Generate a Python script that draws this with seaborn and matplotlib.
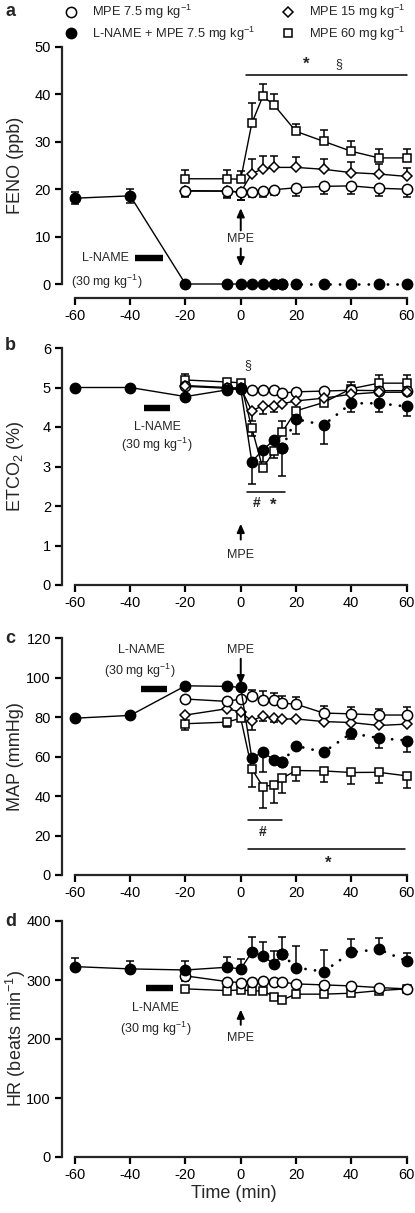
import matplotlib
matplotlib.use("Agg")
import matplotlib.pyplot as plt
import seaborn as sns
from matplotlib.lines import Line2D

# ---------------- data ----------------
t_ln = [-60, -40, -20, -5, 0, 4, 8, 12, 15, 20, 30, 40, 50, 60]
t_mpe = [-20, -5, 0, 4, 8, 12, 15, 20, 30, 40, 50, 60]
t_mpe_a = [-20, -5, 0, 4, 8, 12, 20, 30, 40, 50, 60]

# Panel a: FENO (ppb)
a_ln = [18.1, 18.6, 0, 0, 0, 0, 0, 0, 0, 0, 0, 0, 0, 0]
a_ln_up = [1.3, 1.5, 0, 0, 0, 0, 0, 0, 0, 0, 0, 0, 0, 0]
a_ln_dn = [1.3, 1.5, 0, 0, 0, 0, 0, 0, 0, 0, 0, 0, 0, 0]
a_m60 = [22.2, 22.2, 22.1, 33.9, 39.6, 37.8, 32.2, 30.1, 28.0, 26.6, 26.6]
a_m60_up = [1.9, 1.9, 1.8, 4.2, 2.5, 2.2, 1.6, 2.4, 2.2, 1.9, 1.9]
a_m15 = [19.6, 19.6, 19.4, 23.3, 24.3, 24.6, 24.6, 24.2, 23.5, 23.2, 22.7]
a_m15_up = [0, 0, 0, 3.1, 2.8, 2.4, 2.2, 2.1, 2.2, 2.1, 1.8]
a_m15_dn = [1.2, 1.4, 1.7, 0, 0, 0, 0, 0, 0, 0, 0]
a_m75 = [19.7, 19.6, 19.4, 19.5, 19.6, 19.9, 20.3, 20.6, 20.7, 20.2, 20.0]
a_m75_dn = [1.2, 1.3, 1.6, 1.1, 1.2, 1.2, 1.8, 1.7, 1.7, 1.6, 1.7]

# Panel b: ETCO2 (%)
b_ln = [5.0, 5.0, 4.77, 4.94, 4.97, 3.12, 3.42, 3.67, 3.48, 4.20, 4.05, 4.60, 4.60, 4.52]
b_ln_dn = [0, 0, 0, 0, 0, 0.57, 0.3, 0.2, 0.71, 0.37, 0.49, 0.21, 0.23, 0.24]
b_m60 = [5.19, 5.14, 5.12, 3.97, 2.95, 3.39, 3.87, 4.41, 4.62, 4.97, 5.11, 5.11]
b_m60_up = [0.16, 0.05, 0.05, 0, 0, 0, 0.27, 0, 0, 0.18, 0.21, 0.2]
b_m60_dn = [0, 0, 0, 0.2, 0, 0.18, 0, 0, 0, 0, 0, 0]
b_m15 = [5.03, 4.98, 4.98, 4.41, 4.54, 4.54, 4.59, 4.66, 4.73, 4.83, 4.88, 4.88]
b_m15_dn = [0, 0, 0, 0.27, 0.2, 0.15, 0, 0, 0, 0, 0, 0]
b_m75 = [5.05, 5.0, 4.98, 4.94, 4.94, 4.93, 4.86, 4.89, 4.91, 4.93, 4.92, 4.92]

# Panel c: MAP (mmHg)
c_ln = [79.4, 80.8, 95.8, 95.5, 95.0, 59.2, 62.2, 58.3, 57.1, 65.4, 62.2, 71.8, 69.3, 68.1]
c_ln_dn = [0, 0, 0, 0, 0, 0, 9.8, 0, 0, 0, 0, 3.0, 5.0, 5.6]
c_m75 = [89.1, 87.9, 89.1, 90.8, 88.4, 88.4, 87.0, 86.5, 82.0, 81.6, 81.0, 81.0]
c_m75_up = [0, 0, 0, 3.0, 4.6, 3.7, 3.8, 3.5, 3.7, 3.4, 3.3, 4.3]
c_m15 = [81.0, 84.2, 82.5, 78.0, 80.6, 79.3, 79.0, 79.0, 77.7, 77.2, 75.7, 76.4]
c_m15_dn = [0, 0, 0, 4.5, 2.4, 2.0, 0, 0, 0, 0, 0, 0]
c_m60 = [76.6, 77.4, 79.4, 53.7, 44.8, 45.6, 49.0, 52.9, 52.7, 51.9, 52.0, 50.2]
c_m60_dn = [3.1, 2.7, 0, 8.9, 11.0, 9.3, 7.6, 5.2, 5.4, 5.8, 5.5, 5.9]

# Panel d: HR (beats min-1)
d_ln = [322.7, 318.8, 317.0, 321.6, 318.8, 347.0, 341.3, 326.7, 343.6, 321.0, 314.2, 347.0, 352.0, 332.3]
d_ln_up = [15.3, 14.2, 15.3, 18.0, 16.9, 26.5, 22.7, 23.3, 29.9, 37.0, 36.8, 22.5, 19.8, 13.0]
d_m75 = [307.0, 297.3, 295.6, 297.3, 298.4, 297.3, 296.2, 293.4, 291.7, 290.0, 287.2, 285.0]
d_m75_dn = [9, 0, 0, 0, 0, 0, 0, 0, 0, 0, 0, 0]
d_m60 = [285.0, 282.0, 283.2, 281.5, 281.5, 272.0, 266.3, 276.0, 276.0, 277.6, 282.0, 285.0]

legend_labels = [r"MPE 7.5 mg kg$^{-1}$", r"L-NAME + MPE 7.5 mg kg$^{-1}$",
                 r"MPE 15 mg kg$^{-1}$", r"MPE 60 mg kg$^{-1}$"]
ylabels = ["FENO (ppb)", r"ET$\mathregular{CO_2}$ (%)", "MAP (mmHg)", r"HR (beats min$^{-1}$)"]
xticks = [-60, -40, -20, 0, 20, 40, 60]

# ---------------- style ----------------
sns.set_style("ticks")
plt.rcParams["font.family"] = ["Liberation Sans", "DejaVu Sans"]
plt.rcParams["mathtext.fontset"] = "custom"
plt.rcParams["mathtext.rm"] = "Liberation Sans"
plt.rcParams["mathtext.it"] = "Liberation Sans:italic"
plt.rcParams["mathtext.bf"] = "Liberation Sans:bold"
plt.rcParams["axes.unicode_minus"] = False

W, H = 415, 1213
fig = plt.figure(figsize=(W / 100, H / 100), dpi=100)

L, R = 62, 406.5
def add_axes(top, bottom):
    return fig.add_axes([L / W, 1 - bottom / H, (R - L) / W, (bottom - top) / H])

axa = add_axes(47, 284)
axb = add_axes(348, 585)
axc = add_axes(638, 875)
axd = add_axes(921, 1157)

MS_C, MS_S, MS_D = 7.4, 6.4, 7.0
EW = 1.1
LW = 1.0

styles = {
    "m75": dict(marker="o", markersize=MS_C, markerfacecolor="white"),
    "ln": dict(marker="o", markersize=MS_C, markerfacecolor="black"),
    "m15": dict(marker="D", markersize=MS_D * 0.8, markerfacecolor="white"),
    "m60": dict(marker="s", markersize=MS_S, markerfacecolor="white"),
}

def errbars(ax, t, y, up=None, dn=None):
    n = len(t)
    up = up if up is not None else [0] * n
    dn = dn if dn is not None else [0] * n
    for ti, yi, u, d in zip(t, y, up, dn):
        if u > 0:
            ax.errorbar([ti], [yi], yerr=[[0], [u]], fmt="none", ecolor="black",
                        elinewidth=1.1, capsize=2.6, capthick=1.1, zorder=1.5, clip_on=False)
        if d > 0:
            ax.errorbar([ti], [yi], yerr=[[d], [0]], fmt="none", ecolor="black",
                        elinewidth=1.1, capsize=2.6, capthick=1.1, zorder=1.5, clip_on=False)

def series(ax, t, y, key, z):
    st = styles[key]
    sns.lineplot(x=t, y=y, ax=ax, color="black", lw=LW, markeredgecolor="black",
                 markeredgewidth=EW, zorder=z, clip_on=False, errorbar=None, **st)

def series_ln(ax, t, y, z=5):
    st = styles["ln"]
    ts = [v for v in t if v <= 15]
    ys = [y[i] for i, v in enumerate(t) if v <= 15]
    td = [v for v in t if v >= 15]
    yd = [y[i] for i, v in enumerate(t) if v >= 15]
    sns.lineplot(x=td, y=yd, ax=ax, color="black", lw=2.0, linestyle=(0, (0.05, 3.4)),
                 dash_capstyle="round", zorder=z - 0.5, clip_on=False, errorbar=None)
    sns.lineplot(x=td, y=yd, ax=ax, color="black", lw=0, markeredgecolor="black",
                 markeredgewidth=EW, zorder=z, clip_on=False, errorbar=None, **st)
    sns.lineplot(x=ts, y=ys, ax=ax, color="black", lw=LW, markeredgecolor="black",
                 markeredgewidth=EW, zorder=z, clip_on=False, errorbar=None, **st)

# ---- Panel a
errbars(axa, t_mpe_a, a_m60, up=a_m60_up)
errbars(axa, t_mpe_a, a_m15, up=a_m15_up, dn=a_m15_dn)
errbars(axa, t_mpe_a, a_m75, dn=a_m75_dn)
errbars(axa, t_ln, a_ln, up=a_ln_up, dn=a_ln_dn)
series(axa, t_mpe_a, a_m60, "m60", 3)
series(axa, t_mpe_a, a_m15, "m15", 3.5)
series(axa, t_mpe_a, a_m75, "m75", 4)
series_ln(axa, t_ln, a_ln)

# ---- Panel b
errbars(axb, t_mpe, b_m60, up=b_m60_up, dn=b_m60_dn)
errbars(axb, t_mpe, b_m15, dn=b_m15_dn)
errbars(axb, t_ln, b_ln, dn=b_ln_dn)
series(axb, t_mpe, b_m60, "m60", 3)
series(axb, t_mpe, b_m75, "m75", 3.5)
series(axb, t_mpe, b_m15, "m15", 4)
series_ln(axb, t_ln, b_ln)

# ---- Panel c
errbars(axc, t_mpe, c_m75, up=c_m75_up)
errbars(axc, t_mpe, c_m15, dn=c_m15_dn)
errbars(axc, t_mpe, c_m60, dn=c_m60_dn)
errbars(axc, t_ln, c_ln, dn=c_ln_dn)
series(axc, t_mpe, c_m60, "m60", 3)
series(axc, t_mpe, c_m15, "m15", 3.5)
series(axc, t_mpe, c_m75, "m75", 4)
series_ln(axc, t_ln, c_ln)

# ---- Panel d
errbars(axd, t_ln, d_ln, up=d_ln_up)
errbars(axd, t_mpe, d_m75, dn=d_m75_dn)
series(axd, t_mpe, d_m60, "m60", 3)
series(axd, t_mpe, d_m75, "m75", 4)
series_ln(axd, t_ln, d_ln)

# ---------------- axes formatting ----------------
ylims = [(0, 50, 10), (0, 6, 1), (0, 120, 20), (0, 400, 100)]
for ax, (lo, hi, st), lab in zip([axa, axb, axc, axd], ylims, ylabels):
    ax.set_xlim(-64.7, 60)
    ax.set_ylim(lo, hi)
    ax.set_xticks(xticks)
    ax.set_yticks(list(range(lo, hi + 1, st)))
    ax.spines["top"].set_visible(False)
    ax.spines["right"].set_visible(False)
    ax.spines["left"].set_bounds(lo, hi)
    ax.spines["bottom"].set_bounds(-60, 60)
    for s in ["left", "bottom"]:
        ax.spines[s].set_linewidth(1.6)
    ax.tick_params(axis="both", direction="out", length=5, width=1.6, labelsize=10.5, pad=3,
                   color="black", labelcolor="black")
    ax.set_xlabel("")
    ax.set_ylabel(lab, fontsize=13, va="center")
    ax.yaxis.set_label_coords(-0.135, 0.5)
    ax.patch.set_alpha(0)

axa.spines["bottom"].set_position(("outward", 10))
axd.set_xlabel("Time (min)", fontsize=13, labelpad=2)

# panel letters
for lab, y in zip("abcd", [12, 345, 638, 922]):
    fig.text(5 / W, 1 - y / H, lab, fontsize=13, fontweight="bold", va="center", ha="left")

TXT = 9
def arrow(ax, x, tail, tip):
    ax.annotate("", xy=(x, tip), xytext=(x, tail),
                arrowprops=dict(arrowstyle="-|>,head_length=0.5,head_width=0.22",
                                color="black", lw=1.4, shrinkA=0, shrinkB=0))

def lname_bar(ax, x0, x1, y):
    ax.plot([x0, x1], [y, y], color="black", lw=4.6, solid_capstyle="butt", clip_on=False)

# annotations panel a
lname_bar(axa, -38.3, -28.3, 5.4)
axa.text(-49, 5.4, "L-NAME", fontsize=TXT, ha="center", va="center")
axa.text(-48.5, 0.5, r"(30 mg kg$^{-1}$)", fontsize=TXT, ha="center", va="center")
arrow(axa, 0, 11.3, 16.0)
axa.text(0, 9.4, "MPE", fontsize=TXT, ha="center", va="center")
arrow(axa, 0, 7.5, 3.7)
axa.plot([2, 60], [44, 44], color="black", lw=1.1, clip_on=False)
axa.text(23.6, 46.3, "*", fontsize=12, ha="center", va="center", fontweight="bold")
axa.text(35.5, 46.3, "§", fontsize=9, ha="center", va="center")

# panel b
lname_bar(axb, -35, -25.5, 4.48)
axb.text(-30.3, 4.0, "L-NAME", fontsize=TXT, ha="center", va="center")
axb.text(-30.3, 3.55, r"(30 mg kg$^{-1}$)", fontsize=TXT, ha="center", va="center")
arrow(axb, 0, 1.15, 1.55)
axb.text(0, 0.75, "MPE", fontsize=TXT, ha="center", va="center")
axb.text(2.7, 5.57, "§", fontsize=9, ha="center", va="center")
axb.plot([2.2, 16], [2.36, 2.36], color="black", lw=1.1)
axb.text(5.8, 2.07, "#", fontsize=10, ha="center", va="center", fontweight="bold")
axb.text(11.8, 2.02, "*", fontsize=12, ha="center", va="center", fontweight="bold")

# panel c
lname_bar(axc, -36, -26.8, 94.3)
axc.text(-36.1, 113.7, "L-NAME", fontsize=TXT, ha="center", va="center")
axc.text(-36.5, 103.5, r"(30 mg kg$^{-1}$)", fontsize=TXT, ha="center", va="center")
axc.text(0, 113.7, "MPE", fontsize=TXT, ha="center", va="center")
arrow(axc, 0, 109.5, 96.5)
axc.plot([2.6, 14.8], [27.9, 27.9], color="black", lw=1.1)
axc.text(8, 22, "#", fontsize=10, ha="center", va="center", fontweight="bold")
axc.plot([2.6, 59.3], [13, 13], color="black", lw=1.1)
axc.text(31.5, 6.0, "*", fontsize=12, ha="center", va="center", fontweight="bold")

# panel d
lname_bar(axd, -34.4, -24.6, 286)
axd.text(-30.8, 252, "L-NAME", fontsize=TXT, ha="center", va="center")
axd.text(-30.8, 217, r"(30 mg kg$^{-1}$)", fontsize=TXT, ha="center", va="center")
arrow(axd, 0, 224, 250)
axd.text(0, 201, "MPE", fontsize=TXT, ha="center", va="center")

# ---------------- legend ----------------
def h(key):
    st = styles[key]
    return Line2D([], [], color="black", linestyle="none", markeredgecolor="black",
                  markeredgewidth=EW, **st)

leg_kw = dict(loc="upper left", bbox_transform=fig.transFigure, frameon=False, fontsize=9.3,
              handlelength=1.0, handletextpad=1.1, labelspacing=0.25, borderpad=0,
              borderaxespad=0)
leg1 = axa.legend([h("m75"), h("ln")], legend_labels[:2],
                  bbox_to_anchor=(65 / W, 1 - 3 / H), **leg_kw)
axa.add_artist(leg1)
axa.legend([h("m15"), h("m60")], legend_labels[2:],
           bbox_to_anchor=(282 / W, 1 - 3 / H), **leg_kw)

fig.savefig("out.png", dpi=100)
